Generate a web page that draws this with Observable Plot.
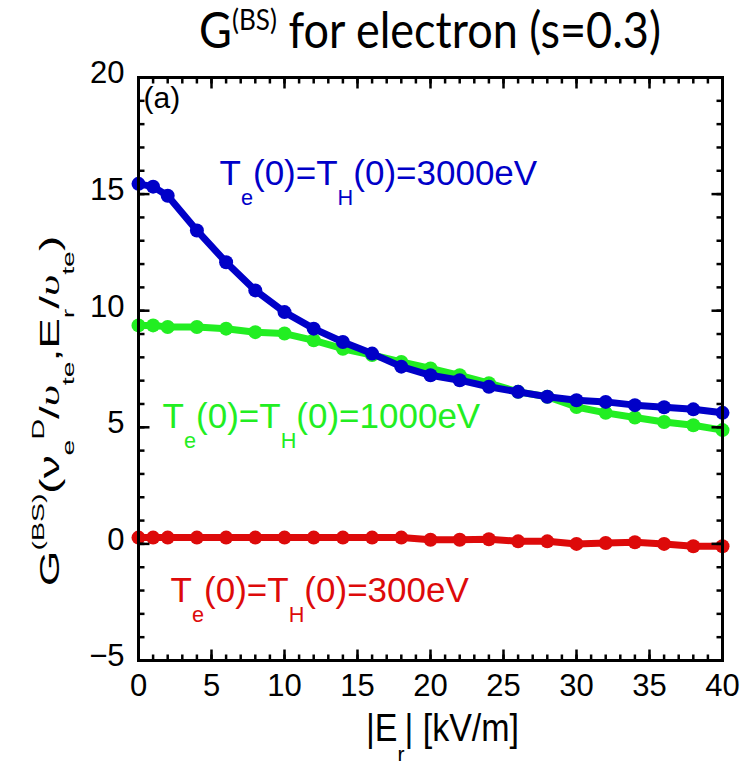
<!DOCTYPE html>
<html>
<head>
<meta charset="utf-8">
<script src="https://cdn.jsdelivr.net/npm/d3@7"></script>
<script src="https://cdn.jsdelivr.net/npm/@observablehq/plot@0.6"></script>
<style>
  html, body { margin: 0; padding: 0; background: #fff; }
  #title { height: 60px; box-sizing: border-box; padding-left: 120px; padding-top: 6px; text-align: center;
           font-family: "Lato", "Open Sans", sans-serif; font-size: 45px; line-height: 54px; color: #000; white-space: nowrap; }
  #title span.inner { display: inline-block; transform: scale(1, 1.12); transform-origin: 50% 100%; }
  #title sup { font-size: 0.58em; vertical-align: 0; position: relative; top: -0.62em; }
  #chart svg { display: block; }
</style>
</head>
<body>
<div id="title"><span class="inner">G<sup>(BS)</sup> for electron (s=0.3)</span></div>
<div id="chart"></div>
<script>
// ---- data ----
const fieldKVm = [0, 1, 2, 4, 6, 8, 10, 12, 14, 16, 18, 20, 22, 24, 26, 28, 30, 32, 34, 36, 38, 40];
const g3000 = [15.44, 15.32, 14.93, 13.44, 12.08, 10.87, 9.94, 9.23, 8.66, 8.16, 7.6, 7.23, 7.02, 6.74, 6.52, 6.31, 6.16, 6.09, 5.95, 5.86, 5.77, 5.62];
const g1000 = [9.37, 9.37, 9.3, 9.3, 9.23, 9.08, 9.02, 8.73, 8.37, 8.1, 7.8, 7.52, 7.23, 6.89, 6.52, 6.31, 5.87, 5.62, 5.42, 5.23, 5.09, 4.88];
const g300 = [0.27, 0.27, 0.27, 0.27, 0.27, 0.27, 0.27, 0.27, 0.27, 0.27, 0.27, 0.18, 0.18, 0.2, 0.11, 0.11, 0.0, 0.04, 0.07, 0.0, -0.1, -0.1];
const seriesNames = ["300eV", "1000eV", "3000eV"];
const seriesValues = [g300, g1000, g3000];
const seriesLabels = ["T_{e}(0)=T_{H}(0)=300eV", "T_{e}(0)=T_{H}(0)=1000eV", "T_{e}(0)=T_{H}(0)=3000eV"];
const labelAtX = [2.2, 1.65, 5.55];
const labelAtY = [-2.48, 4.98, 15.38];
const xMajorTicks = [0, 5, 10, 15, 20, 25, 30, 35, 40];
const xMinorTicks = d3.range(0, 41, 1);
const yMajorTicks = [-5, 0, 5, 10, 15, 20];
const yMinorTicks = d3.range(-5, 21, 1);
const panelTag = "(a)";
const xLabel = "|E_{r}| [kV/m]";
const yLabel = "G^{(BS)}(ν_{e}^{D}/~{υ}_{te},E_{r}/~{υ}_{te})";

// ---- build table ----
const rows = seriesNames.flatMap((s, i) => fieldKVm.map((x, j) => ({series: s, x, y: seriesValues[i][j]})));
const labels = seriesNames.map((s, i) => ({series: s, text: seriesLabels[i], x: labelAtX[i], y: labelAtY[i]}));

const colors = {"300eV": "#dd0a0a", "1000eV": "#22ee22", "3000eV": "#0000c8"};

const W = 740, H = 701;
const mT = 17, mB = 101, mL = 138, mR = 18;
const frameW = W - mL - mR, frameH = H - mT - mB;
const xDom = [0, 40], yDom = [-5, 20];
const pxX = frameW / (xDom[1] - xDom[0]), pxY = frameH / (yDom[1] - yDom[0]);
const majorLen = 11, minorLen = 6;

const seriesMarks = seriesNames.flatMap(s => {
  const d = rows.filter(r => r.series === s);
  return [
    Plot.line(d, {x: "x", y: "y", stroke: colors[s], strokeWidth: 7, curve: "linear"}),
    Plot.dot(d, {x: "x", y: "y", r: 7, fill: colors[s], stroke: "none"})
  ];
});

const tw = 2.5;
const tickMarks = [
  Plot.link(xMajorTicks, {x1: d => d, x2: d => d, y1: -5, y2: -5 + majorLen / pxY, stroke: "black", strokeWidth: tw}),
  Plot.link(xMinorTicks, {x1: d => d, x2: d => d, y1: -5, y2: -5 + minorLen / pxY, stroke: "black", strokeWidth: tw}),
  Plot.link(xMajorTicks, {x1: d => d, x2: d => d, y1: 20, y2: 20 - majorLen / pxY, stroke: "black", strokeWidth: tw}),
  Plot.link(xMinorTicks, {x1: d => d, x2: d => d, y1: 20, y2: 20 - minorLen / pxY, stroke: "black", strokeWidth: tw}),
  Plot.link(yMajorTicks, {y1: d => d, y2: d => d, x1: 0, x2: majorLen / pxX, stroke: "black", strokeWidth: tw}),
  Plot.link(yMinorTicks, {y1: d => d, y2: d => d, x1: 0, x2: minorLen / pxX, stroke: "black", strokeWidth: tw}),
  Plot.link(yMajorTicks, {y1: d => d, y2: d => d, x1: 40, x2: 40 - majorLen / pxX, stroke: "black", strokeWidth: tw}),
  Plot.link(yMinorTicks, {y1: d => d, y2: d => d, x1: 40, x2: 40 - minorLen / pxX, stroke: "black", strokeWidth: tw})
];

const fmt = d => d < 0 ? "\u2212" + (-d) : String(d);

const chart = Plot.plot({
  width: W, height: H,
  marginTop: mT, marginBottom: mB, marginLeft: mL, marginRight: mR,
  style: {fontFamily: "'Liberation Sans', Arial, sans-serif", background: "#fff", overflow: "visible"},
  x: {domain: xDom},
  y: {domain: yDom},
  marks: [
    Plot.axisX(xMajorTicks, {anchor: "bottom", tickSize: 0, tickPadding: 13, fontSize: 31, label: null, tickFormat: fmt}),
    Plot.axisY(yMajorTicks, {anchor: "left", tickSize: 0, tickPadding: 14, fontSize: 31, label: null, tickFormat: fmt, dy: -4}),
    ...seriesMarks,
    Plot.frame({stroke: "black", strokeWidth: 3}),
    ...tickMarks,
    Plot.text(labels, {x: "x", y: "y", text: "text", fill: d => colors[d.series], textAnchor: "start", lineAnchor: "bottom", fontSize: 35}),
    Plot.text([panelTag], {frameAnchor: "top-left", text: d => d, dx: 5, dy: 9, lineAnchor: "top", textAnchor: "start", fontSize: 30, fill: "black"}),
    Plot.text([xLabel], {frameAnchor: "bottom", text: d => d, dy: 80, dx: 12, textAnchor: "middle", lineAnchor: "bottom", fontSize: 34, fill: "black"}),
    Plot.text([yLabel], {frameAnchor: "left", text: d => d, dx: -80, dy: 42, rotate: -90, textAnchor: "middle", lineAnchor: "bottom", fontSize: 27, fill: "black"})
  ]
});

document.getElementById("chart").appendChild(chart);

// ---- rich text: _{sub} ^{sup} ~{italic} ----
function richText(el, str) {
  const base = parseFloat(getComputedStyle(el).fontSize) || 30;
  const t = d3.select(el);
  t.text(null);
  t.attr("dy", null);
  const re = /([_^~])\{([^}]*)\}|([^_^~]+)/g;
  let m, cur = 0;
  while ((m = re.exec(str))) {
    let txt, off = 0, scale = 1, ital = false;
    if (m[3] !== undefined) txt = m[3];
    else {
      txt = m[2];
      if (m[1] === "_") { off = 0.57; scale = 0.62; }
      else if (m[1] === "^") { off = -0.52; scale = 0.62; }
      else { ital = true; }
    }
    const target = off * base;
    const ts = t.append("tspan").text(txt).attr("dy", (target - cur) + "px");
    cur = target;
    if (scale !== 1) ts.attr("font-size", (base * scale) + "px");
    if (ital) ts.attr("font-style", "italic").attr("font-family", "'Liberation Serif', serif");
  }
}
d3.select(chart).selectAll("text").each(function() {
  const s = this.textContent;
  if (/[_^~]\{/.test(s)) {
    richText(this, s);
    if (s === yLabel) {
      const tr = this.getAttribute("transform") || "";
      this.setAttribute("transform", tr + " scale(1.7,1)");
    }
    if (s === xLabel) {
      const tr = this.getAttribute("transform") || "";
      this.setAttribute("transform", tr + " scale(1,1.15)");
    }
  }
});
</script>
</body>
</html>
